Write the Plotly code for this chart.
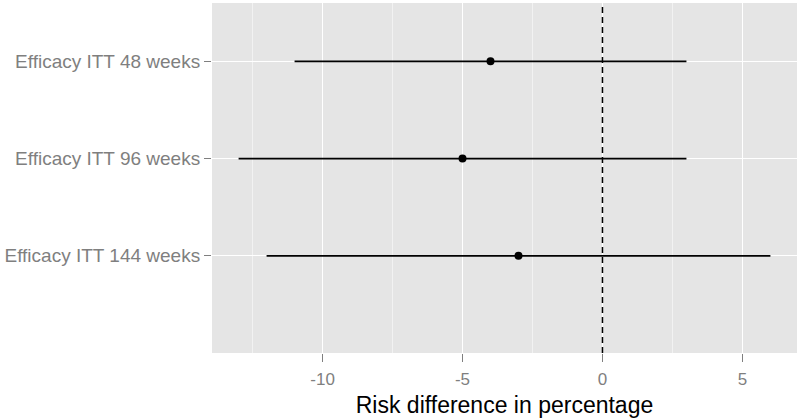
import plotly.graph_objects as go

labels = ["Efficacy ITT 48 weeks", "Efficacy ITT 96 weeks", "Efficacy ITT 144 weeks"]
ypos = [3, 2, 1]
estimate = [-4, -5, -3]
lower = [-11, -13, -12]
upper = [3, 3, 6]

x_ticks = [-10, -5, 0, 5]

err_plus = [u - e for u, e in zip(upper, estimate)]
err_minus = [e - l for e, l in zip(estimate, lower)]

fig = go.Figure()
fig.add_trace(go.Scatter(
    x=estimate, y=ypos, mode="markers",
    marker=dict(color="black", size=8, symbol="circle"),
    error_x=dict(type="data", symmetric=False, array=err_plus, arrayminus=err_minus,
                 color="black", thickness=1.8, width=0),
    showlegend=False, hoverinfo="skip",
))

fig.add_shape(type="line", x0=0, x1=0, y0=0, y1=3.6, xref="x", yref="y",
              line=dict(color="black", width=1.5, dash="6px,4px"))

fig.update_layout(
    width=800, height=420,
    margin=dict(l=212, r=3, t=3, b=67),
    paper_bgcolor="white", plot_bgcolor="#E5E5E5",
    font=dict(family="Liberation Sans, Arial, sans-serif"),
    xaxis=dict(
        range=[-13.95, 6.95], tickvals=x_ticks, ticktext=[str(v) for v in x_ticks],
        showgrid=True, gridcolor="white", gridwidth=1.3, zeroline=False,
        minor=dict(dtick=2.5, tick0=0, showgrid=True, gridcolor="#F2F2F2", gridwidth=0.7, ticklen=0),
        ticks="outside", ticklen=8, tickcolor="#7F7F7F", tickwidth=1,
        ticklabelstandoff=3,
        tickfont=dict(size=17, color="#7F7F7F"),
        title=dict(text="Risk difference in percentage", font=dict(size=23, color="black"), standoff=8),
        showline=False,
    ),
    yaxis=dict(
        range=[0, 3.6], tickvals=ypos, ticktext=labels,
        showgrid=True, gridcolor="white", gridwidth=1.3, zeroline=False,
        ticks="outside", ticklen=7, tickcolor="#7F7F7F", tickwidth=1,
        tickfont=dict(size=19, color="#7F7F7F"),
        showline=False,
    ),
)

fig.write_html("out.html", config={"displayModeBar": False},
               post_script="document.body.style.margin='0';document.body.style.overflow='hidden';")
